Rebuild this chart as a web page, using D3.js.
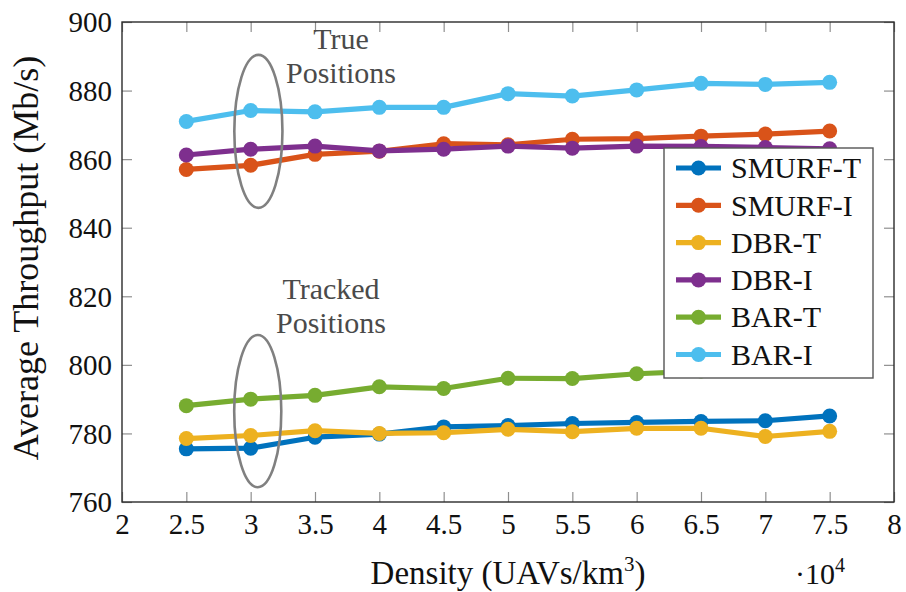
<!DOCTYPE html>
<html>
<head>
<meta charset="utf-8">
<script src="https://cdn.jsdelivr.net/npm/d3@7"></script>
<style>
  html, body { margin: 0; padding: 0; background: #fff; }
  svg { display: block; }
  text { font-family: "Liberation Serif", "DejaVu Serif", serif; }
</style>
</head>
<body>
<svg id="chart" width="906" height="592"></svg>
<script>
// Density (x 10^4 UAVs/km^3)
const density = [2.5, 3, 3.5, 4, 4.5, 5, 5.5, 6, 6.5, 7, 7.5];

// Average throughput (Mb/s) per scheme
const smurfT = [775.5, 775.7, 778.9, 779.8, 781.9, 782.3, 782.9, 783.2, 783.5, 783.7, 785.1];
const smurfI = [857.0, 858.2, 861.4, 862.3, 864.5, 864.2, 865.8, 866.0, 866.7, 867.3, 868.2];
const dbrT   = [778.5, 779.4, 780.8, 780.0, 780.2, 781.2, 780.5, 781.5, 781.5, 779.1, 780.6];
const dbrI   = [861.2, 862.9, 863.8, 862.4, 862.9, 863.8, 863.2, 863.8, 863.7, 863.4, 863.0];
const barT   = [788.1, 790.0, 791.1, 793.6, 793.1, 796.1, 796.0, 797.4, 798.2, 798.7, 799.3];
const barI   = [871.0, 874.2, 873.8, 875.1, 875.1, 879.1, 878.4, 880.2, 882.1, 881.8, 882.4];

const seriesNames  = ["SMURF-T", "SMURF-I", "DBR-T", "DBR-I", "BAR-T", "BAR-I"];
const seriesValues = [smurfT, smurfI, dbrT, dbrI, barT, barI];
const seriesColors = ["#0072BD", "#D95319", "#EDB120", "#7E2F8E", "#77AC30", "#4DBEEE"];

const xTicks = [2, 2.5, 3, 3.5, 4, 4.5, 5, 5.5, 6, 6.5, 7, 7.5, 8];
const yTicks = [760, 780, 800, 820, 840, 860, 880, 900];

// Ellipses grouping the point at density 3 (centre x, centre y, radius x, radius y in data units)
const groups = [
  { cx: 3.06, cy: 868.1, rx: 0.187, ry: 22.3, lines: ["True", "Positions"], tx: 341, ty: 49 },
  { cx: 3.055, cy: 786.5, rx: 0.183, ry: 22.2, lines: ["Tracked", "Positions"], tx: 331, ty: 299 }
];

const svg = d3.select("#chart");
const L = 122, R = 894, T = 22, B = 502;

const x = d3.scaleLinear().domain([2, 8]).range([L, R]);
const y = d3.scaleLinear().domain([760, 900]).range([B, T]);

const tickColor = "#8f8f8f";
const fs = "29px";

// Axes with inward ticks on all four sides
const axB = svg.append("g").attr("transform", `translate(0,${B})`)
  .call(d3.axisBottom(x).tickValues(xTicks).tickSizeInner(-10).tickSizeOuter(0).tickPadding(10)
    .tickFormat(d => String(d)));
const axT = svg.append("g").attr("transform", `translate(0,${T})`)
  .call(d3.axisTop(x).tickValues(xTicks).tickSizeInner(-10).tickSizeOuter(0).tickFormat(""));
const axLft = svg.append("g").attr("transform", `translate(${L},0)`)
  .call(d3.axisLeft(y).tickValues(yTicks).tickSizeInner(-10).tickSizeOuter(0).tickPadding(10));
const axRgt = svg.append("g").attr("transform", `translate(${R},0)`)
  .call(d3.axisRight(y).tickValues(yTicks).tickSizeInner(-10).tickSizeOuter(0).tickFormat(""));

[axB, axT, axLft, axRgt].forEach(g => {
  g.select(".domain").remove();
  g.selectAll(".tick line").attr("stroke", tickColor).attr("stroke-width", 1.2);
  g.selectAll("text").attr("font-family", "Liberation Serif, serif")
    .attr("font-size", fs).attr("fill", "#111");
});
axB.selectAll("text").attr("dy", "0.75em");
axLft.selectAll("text").attr("dy", "0.34em");

// Frame
svg.append("rect")
  .attr("x", L).attr("y", T).attr("width", R - L).attr("height", B - T)
  .attr("fill", "none").attr("stroke", "#2b2b2b").attr("stroke-width", 1.4);

// Series lines and markers
const line = d3.line().x((d, i) => x(density[i])).y(d => y(d));
seriesValues.forEach((vals, k) => {
  const g = svg.append("g");
  g.append("path").datum(vals)
    .attr("d", line)
    .attr("fill", "none")
    .attr("stroke", seriesColors[k])
    .attr("stroke-width", 5.2)
    .attr("stroke-linejoin", "round");
  g.selectAll("circle").data(vals).join("circle")
    .attr("cx", (d, i) => x(density[i]))
    .attr("cy", d => y(d))
    .attr("r", 7.5)
    .attr("fill", seriesColors[k]);
});

// Annotation ellipses and their two-line captions
groups.forEach(gr => {
  svg.append("ellipse")
    .attr("cx", x(gr.cx)).attr("cy", y(gr.cy))
    .attr("rx", x(gr.cx + gr.rx) - x(gr.cx))
    .attr("ry", y(gr.cy - gr.ry) - y(gr.cy))
    .attr("fill", "none").attr("stroke", "#808080").attr("stroke-width", 2.6);
  gr.lines.forEach((t, i) => {
    svg.append("text")
      .attr("x", gr.tx).attr("y", gr.ty + i * 33.5)
      .attr("text-anchor", "middle")
      .attr("font-size", "30px").attr("fill", "#4a4a4a")
      .text(t);
  });
});

// Legend
const lg = svg.append("g");
lg.append("rect")
  .attr("x", 664).attr("y", 148).attr("width", 209).attr("height", 230)
  .attr("fill", "#fff").attr("stroke", "#555").attr("stroke-width", 1.4);
seriesNames.forEach((name, k) => {
  const cy = 168 + k * 37.3;
  lg.append("line").attr("x1", 676).attr("x2", 721).attr("y1", cy).attr("y2", cy)
    .attr("stroke", seriesColors[k]).attr("stroke-width", 5.2);
  lg.append("circle").attr("cx", 698.5).attr("cy", cy).attr("r", 7.5).attr("fill", seriesColors[k]);
  lg.append("text").attr("x", 731).attr("y", cy).attr("dy", "0.34em")
    .attr("font-size", "30px").attr("fill", "#111").text(name);
});

// Axis titles
svg.append("text")
  .attr("transform", `translate(38,258) rotate(-90)`)
  .attr("text-anchor", "middle")
  .attr("font-size", "36px").attr("fill", "#111")
  .text("Average Throughput (Mb/s)");

const xl = svg.append("text")
  .attr("x", 508).attr("y", 584)
  .attr("text-anchor", "middle")
  .attr("font-size", "33px").attr("fill", "#111");
xl.append("tspan").text("Density (UAVs/km");
xl.append("tspan").attr("font-size", "21px").attr("dy", "-13").text("3");
xl.append("tspan").attr("dy", "13").text(")");

const sc = svg.append("text")
  .attr("x", 820).attr("y", 584)
  .attr("text-anchor", "middle")
  .attr("font-size", "30px").attr("fill", "#111");
sc.append("tspan").text("·10");
sc.append("tspan").attr("font-size", "20px").attr("dy", "-12").text("4");
</script>
</body>
</html>
